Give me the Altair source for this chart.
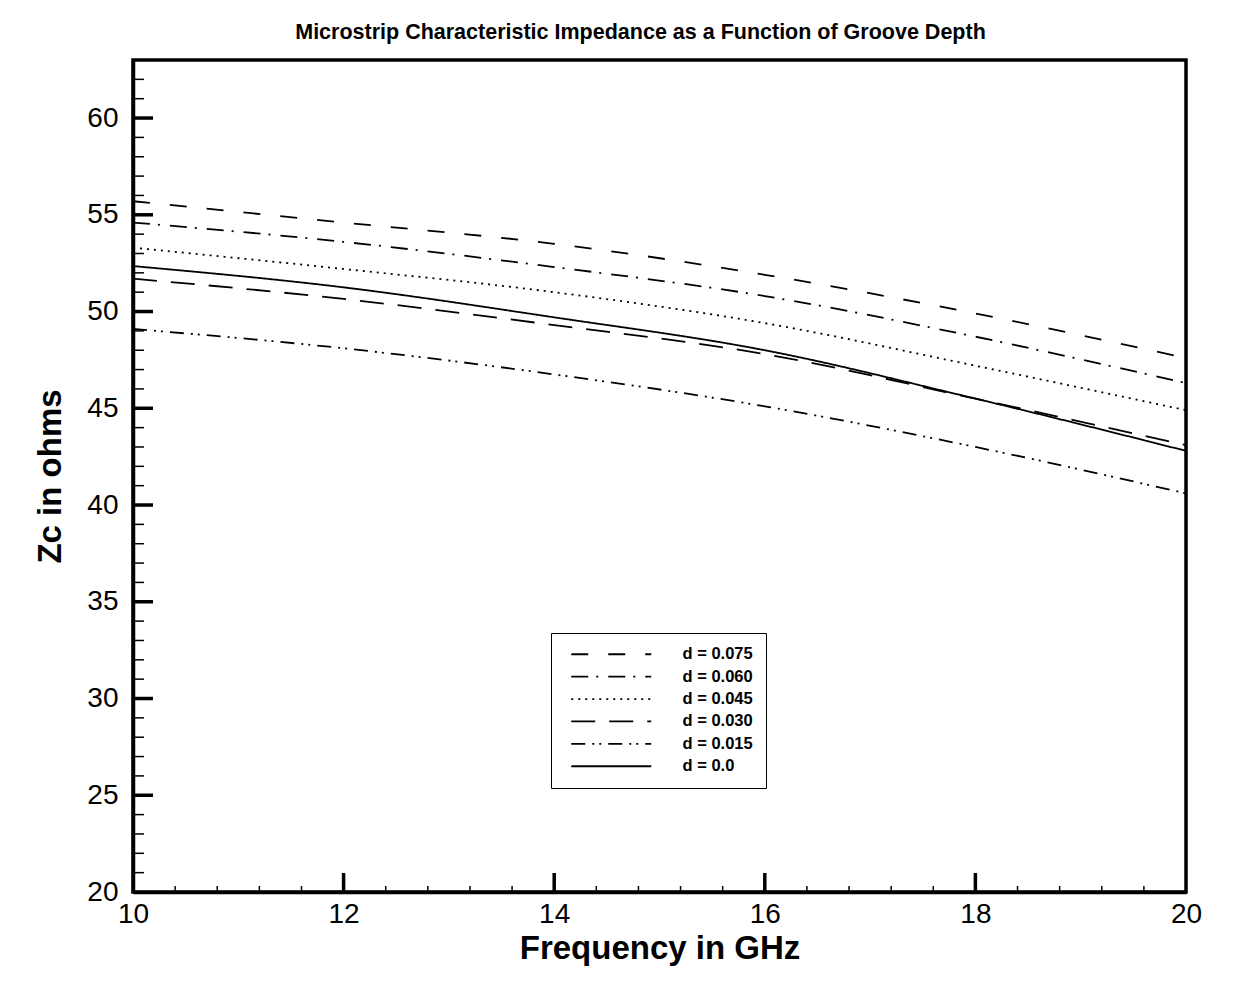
import altair as alt
import pandas as pd

# ---- data ----
freq = [10, 12, 14, 16, 18, 20]
series_names = ["d = 0.075", "d = 0.060", "d = 0.045", "d = 0.030", "d = 0.015", "d = 0.0"]
z_075 = [55.7, 54.6, 53.5, 51.9, 49.9, 47.6]
z_060 = [54.6, 53.6, 52.3, 50.8, 48.7, 46.3]
z_045 = [53.3, 52.2, 51.0, 49.4, 47.2, 44.9]
z_030 = [51.7, 50.65, 49.3, 47.8, 45.5, 43.1]
z_015 = [49.1, 48.1, 46.75, 45.1, 43.0, 40.6]
z_000 = [52.35, 51.25, 49.7, 48.0, 45.5, 42.8]

y_tick_labels = [20, 25, 30, 35, 40, 45, 50, 55, 60]
x_tick_labels = [10, 12, 14, 16, 18, 20]
y_major_ticks = [25, 30, 35, 40, 45, 50, 55, 60]
y_minor_ticks = [21, 22, 23, 24, 26, 27, 28, 29, 31, 32, 33, 34, 36, 37, 38, 39,
                 41, 42, 43, 44, 46, 47, 48, 49, 51, 52, 53, 54, 56, 57, 58, 59, 61, 62]
x_major_ticks = [12, 14, 16, 18]
x_minor_ticks = [10.4, 10.8, 11.2, 11.6, 12.4, 12.8, 13.2, 13.6, 14.4, 14.8, 15.2, 15.6,
                 16.4, 16.8, 17.2, 17.6, 18.4, 18.8, 19.2, 19.6]

dash_styles = [[17, 20], [17, 8, 2, 10], [2, 5], [24, 14], [14, 7, 2, 5, 2, 7], [1, 0]]

rows = []
for name, vals in zip(series_names, [z_075, z_060, z_045, z_030, z_015, z_000]):
    for f, z in zip(freq, vals):
        rows.append({"Frequency": f, "Zc": z, "series": name})
df = pd.DataFrame(rows)

W, H = 1053, 832
FONT = "Liberation Sans"
xscale = alt.Scale(domain=[10, 20], nice=False, zero=False)
yscale = alt.Scale(domain=[20, 63], nice=False, zero=False)

lines = alt.Chart(df).mark_line(color="black", strokeWidth=1.8, interpolate="monotone").encode(
    x=alt.X("Frequency:Q", scale=xscale,
            axis=alt.Axis(values=x_tick_labels, title="Frequency in GHz", format="d",
                          labelFlush=False, labelPadding=8, titlePadding=4)),
    y=alt.Y("Zc:Q", scale=yscale,
            axis=alt.Axis(values=y_tick_labels, title="Zc in ohms", format="d",
                          labelFlush=False, labelPadding=15, titlePadding=19)),
    strokeDash=alt.StrokeDash("series:N",
                              scale=alt.Scale(domain=series_names, range=dash_styles),
                              sort=series_names,
                              legend=alt.Legend(orient="none", legendX=418, legendY=573,
                                                title=None, symbolType="M -20 0 H 20",
                                                symbolSize=16, symbolStrokeWidth=1.8,
                                                symbolStrokeColor="black",
                                                symbolOffset=39,
                                                labelFont=FONT, labelFontSize=16.5,
                                                labelFontWeight="bold", labelColor="black",
                                                labelOffset=63,
                                                strokeColor="black", fillColor="white",
                                                padding=13, rowPadding=5.4)),
)

ymaj = alt.Chart(pd.DataFrame({"Zc": y_major_ticks})).mark_rule(color="black", strokeWidth=3.5).encode(
    y=alt.Y("Zc:Q", scale=yscale), x=alt.value(0), x2=alt.value(20))
ymin = alt.Chart(pd.DataFrame({"Zc": y_minor_ticks})).mark_rule(color="black", strokeWidth=1.5).encode(
    y=alt.Y("Zc:Q", scale=yscale), x=alt.value(0), x2=alt.value(11))
xmaj = alt.Chart(pd.DataFrame({"Frequency": x_major_ticks})).mark_rule(color="black", strokeWidth=3.5).encode(
    x=alt.X("Frequency:Q", scale=xscale), y=alt.value(H), y2=alt.value(H - 19))
xmin = alt.Chart(pd.DataFrame({"Frequency": x_minor_ticks})).mark_rule(color="black", strokeWidth=1.5).encode(
    x=alt.X("Frequency:Q", scale=xscale), y=alt.value(H), y2=alt.value(H - 6))

chart = alt.layer(lines, ymaj, ymin, xmaj, xmin).properties(
    width=W, height=H,
    title=alt.Title("Microstrip Characteristic Impedance as a Function of Groove Depth",
                    font=FONT, fontSize=21.5, fontWeight="bold", color="black",
                    anchor="middle", dx=-19, offset=17),
    autosize=alt.AutoSizeParams(type="none"),
    padding={"left": 133, "top": 60, "right": 53, "bottom": 92},
).configure(background="white").configure_view(
    stroke="black", strokeWidth=3.5
).configure_axis(
    domainColor="black", domainWidth=3.5, ticks=False, grid=False,
    labelFont=FONT, labelFontSize=28, labelColor="black",
    titleFont=FONT, titleFontSize=33, titleFontWeight="bold", titleColor="black",
)

chart.save("out.html", embed_options={"renderer": "svg", "actions": False})
